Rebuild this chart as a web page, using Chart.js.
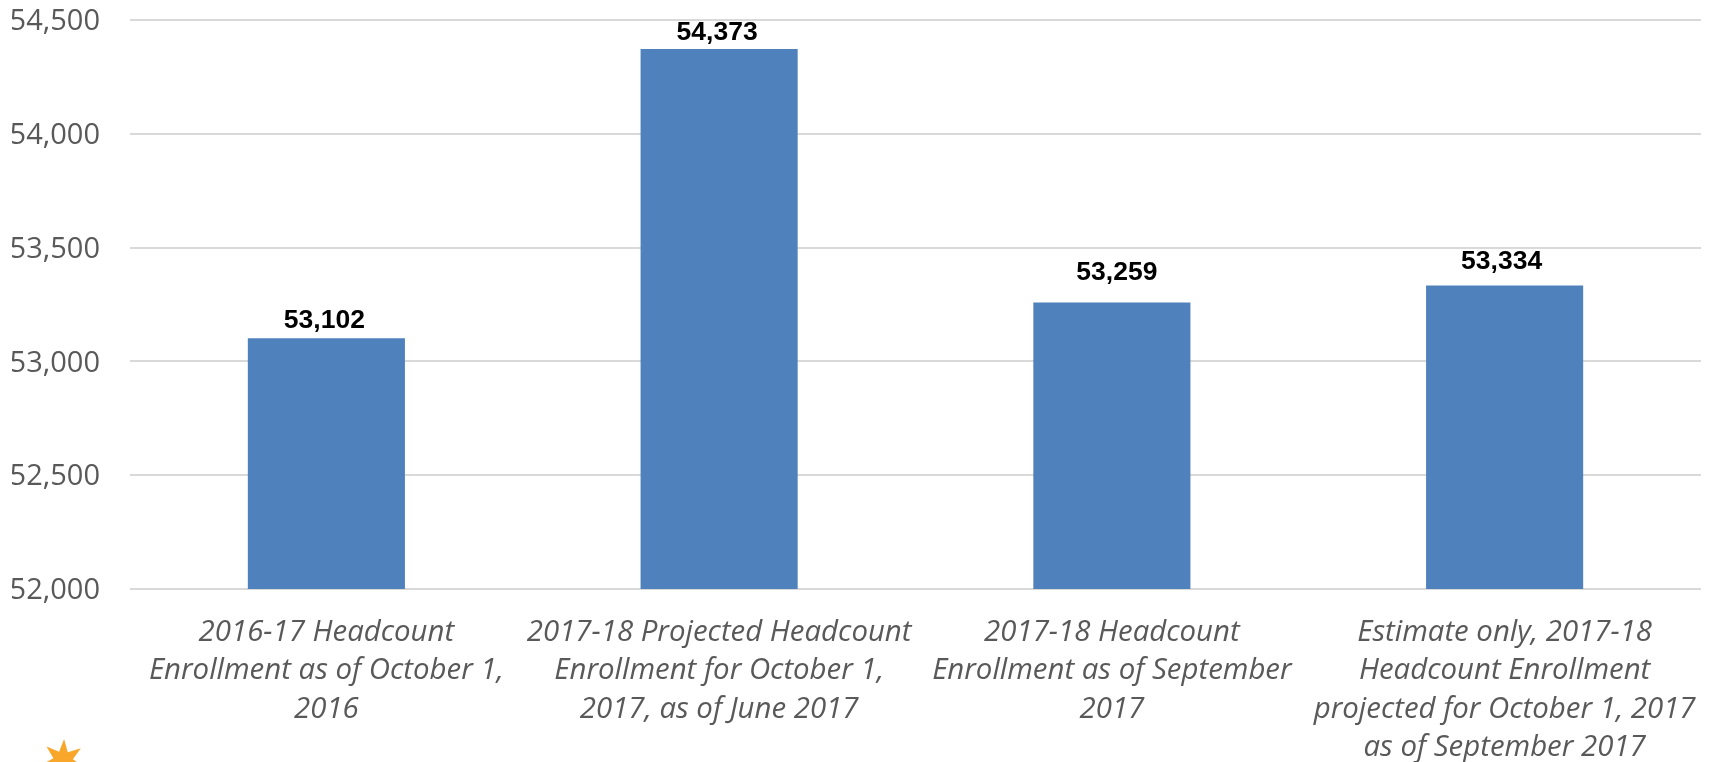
<!DOCTYPE html>
<html>
<head>
<meta charset="utf-8">
<style>
html, body { margin: 0; padding: 0; background: #fff; overflow: hidden; }
#wrap { position: relative; width: 1714px; height: 762px; }
</style>
<script src="https://cdn.jsdelivr.net/npm/chart.js@4"></script>
</head>
<body>
<div id="wrap"><canvas id="enrollment_bar"></canvas></div>
<script>
const categories = [
	["2016-17 Headcount", "Enrollment as of October 1,", "2016"],
	["2017-18 Projected Headcount", "Enrollment for October 1,", "2017, as of June 2017"],
	["2017-18 Headcount", "Enrollment as of September", "2017"],
	["Estimate only, 2017-18", "Headcount Enrollment", "projected for October 1, 2017", "as of September 2017"]
];
const headcount = [53102, 54373, 53259, 53334];

// value labels above each bar, hand placed like the ones in the slide deck
const barLabels = {
	id: 'barLabels',
	afterDatasetsDraw(chart) {
		const gaps = [4, 3, 17, 10];
		const nudges = [-2, -2, 5, -3];
		const ctx = chart.ctx;
		const bars = chart.getDatasetMeta(0).data;
		ctx.save();
		ctx.font = 'bold 26.5px "Liberation Sans"';
		ctx.fillStyle = '#000';
		ctx.textAlign = 'center';
		ctx.textBaseline = 'bottom';
		bars.forEach((bar, i) => {
			ctx.fillText(headcount[i].toLocaleString('en-US'), bar.x + nudges[i], bar.y - gaps[i]);
		});
		ctx.restore();
	}
};

// orange starburst cut off by the lower page edge
const starburst = {
	id: 'starburst',
	afterDraw(chart) {
		const ctx = chart.ctx;
		ctx.save();
		ctx.translate(63, 761);
		ctx.fillStyle = '#f9a72b';
		ctx.beginPath();
		for (let i = 0; i < 14; i++) {
			const r = i % 2 ? 10 : 22;
			const a = i * Math.PI / 7 - Math.PI / 2 + 0.05;
			ctx.lineTo(r * Math.cos(a), r * Math.sin(a));
		}
		ctx.closePath();
		ctx.fill();
		ctx.restore();
	}
};

const canvas = document.getElementById('enrollment_bar');
new Chart(canvas.getContext('2d'), {
	type: 'bar',
	data: {
		labels: categories,
		datasets: [{
			data: headcount,
			backgroundColor: '#4f81bd',
			categoryPercentage: 0.4,
			barPercentage: 1
		}]
	},
	options: {
		responsive: true,
		maintainAspectRatio: false,
		animation: false,
		layout: { padding: { top: 20, right: 13, bottom: 0, left: 12 } },
		plugins: {
			legend: { display: false },
			tooltip: { enabled: false }
		},
		scales: {
			x: {
				afterFit(scale) { scale.height = 173; },
				grid: { display: false },
				border: { display: false },
				ticks: {
					color: '#595959',
					font: { family: '"Open Sans"', size: 29.4, style: 'italic', lineHeight: 1.31 },
					maxRotation: 0,
					autoSkip: false,
					padding: 16
				}
			},
			y: {
				min: 52000,
				max: 54500,
				afterFit(scale) {
					scale.width = 118;
					scale.paddingTop = 0;
					scale.paddingBottom = 0;
				},
				grid: { color: '#d9d9d9', lineWidth: 2, drawTicks: false },
				border: { display: false },
				ticks: {
					stepSize: 500,
					color: '#595959',
					padding: 30,
					font: { family: '"Open Sans"', size: 29, lineHeight: 0.14 },
					// empty first line pushes the number down a touch
					callback: (v) => ['', v.toLocaleString('en-US')]
				}
			}
		}
	},
	plugins: [barLabels, starburst]
});
canvas.parentNode.style.height = '762px';
</script>
</body>
</html>
